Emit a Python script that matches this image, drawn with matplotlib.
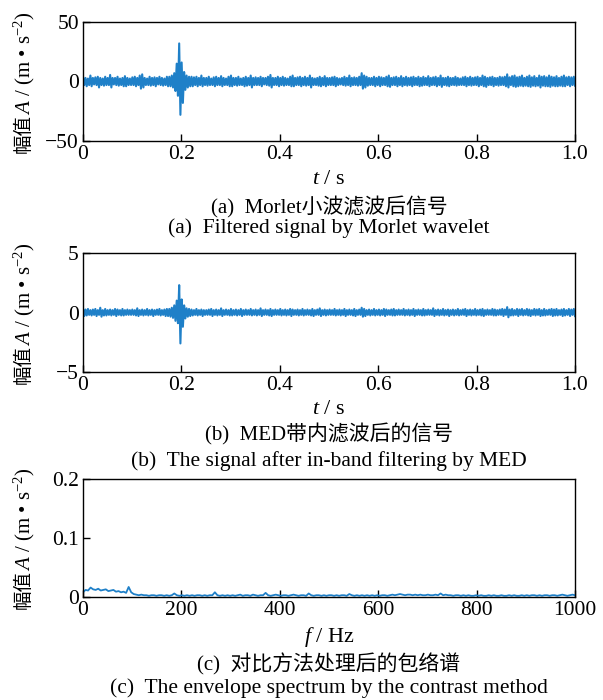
import numpy as np
import matplotlib
matplotlib.use("Agg")
import matplotlib.pyplot as plt

plt.rcParams['font.family'] = ['Liberation Serif', 'Noto Sans CJK SC']
plt.rcParams['mathtext.fontset'] = 'custom'
plt.rcParams['mathtext.rm'] = 'Liberation Serif'
plt.rcParams['mathtext.it'] = 'Liberation Serif:italic'

# (a) Morlet filtered signal, samples over 0..1 s
sig_a = [4, -3, 3, -4, 2.5, -3, 5, -4, 3, -2.5, 3.5, -3, 4, -5, 3, -3, 2.5, -3.5, 4, -3,
         3, -3, 5.5, -5, 3, -2.5, 3, -3, 4, -3.5, 2.5, -3, 3, -4, 4.5, -4, 3, -3, 2.5, -3,
         3.5, -3, 4, -4, 3, -3, 5, -6, 6, -5, 3, -3, 2.5, -3, 4, -3.5, 3, -3, 3.5, -4,
         3, -2.5, 4, -3, 3, -3.5, 2.5, -3, 4, -4, 4, -4, 5, -5, 7, -8, 15, -12, 32, -28,
         16, -18, 8, -7, 5, -5, 4, -4, 4, -4, 3.5, -3, 4, -4, 3, -3, 5, -4, 3, -3,
         3, -3.5, 4, -3, 2.5, -3, 3.5, -4, 4, -3, 3, -3, 4.5, -4, 3, -3, 2.5, -3, 4, -4,
         5, -4, 3, -3, 3, -3.5, 4, -3, 2.5, -3, 3, -4, 4, -3.5, 3, -3, 5, -5, 3, -3,
         3.5, -3, 3, -3, 4, -4, 3, -2.5, 3, -3, 4, -3.5, 5.5, -5, 3, -3, 3, -3, 4, -4,
         3, -3, 4, -3.5, 3, -3, 2.5, -3, 4, -4, 5, -4, 3, -3, 3.5, -3, 4, -4, 3, -3,
         4, -3.5, 3, -3, 5, -5, 3, -3, 2.5, -3, 3, -3.5, 4, -4, 3, -3, 4.5, -4, 3, -3,
         3, -3, 3.5, -3, 4, -4, 3, -3, 2.5, -2.5, 3, -3, 4, -3.5, 3, -3, 5, -4, 3, -3,
         3.5, -3, 3, -3.5, 4, -3, 7, -6, 5, -5, 4, -3.5, 3, -3, 3, -3, 4, -4, 3, -3,
         4, -4, 3.5, -3, 3, -3, 4, -4, 5, -4.5, 3, -3, 3.5, -3, 4, -4, 3, -3, 4.5, -4,
         3, -3, 4, -3.5, 3, -3, 3.5, -4, 4, -3, 3, -3, 4, -4, 3, -3.5, 4, -3, 3, -3,
         4.5, -4, 3, -3, 3.5, -3, 4, -4, 3, -3, 5, -4.5, 3, -3, 3, -3.5, 4, -4, 3, -3,
         3, -3, 4, -3.5, 3, -3, 2.5, -3, 3.5, -3, 4, -4, 3, -3, 4, -3.5, 3, -3, 3.5, -3,
         4, -4, 3, -3, 5, -4, 4, -4.5, 3, -3, 3.5, -3, 4, -4, 3, -3, 3, -3.5, 4, -3,
         3.5, -3, 4, -4, 6, -5, 3.5, -3, 4.5, -4, 5, -4.5, 3.5, -4, 4, -3.5, 5, -4, 3, -3.5,
         4, -4, 5, -4.5, 3.5, -3.5, 4.5, -4, 3, -3.5, 5, -5, 4, -3.5, 4.5, -4, 3.5, -4, 5, -4.5,
         4, -3.5, 3.5, -4, 4.5, -4, 3, -3.5, 4, -4, 5, -4, 3.5, -3, 4, -4, 3.5, -3, 4, -3.5]

# (b) MED in-band filtered signal
sig_b = [0.35, -0.3, 0.25, -0.25, 0.3, -0.2, 0.2, -0.25, 0.25, -0.2, 0.3, -0.3, 0.2, -0.2, 0.4, -0.35, 0.2, -0.25, 0.3, -0.25,
         0.2, -0.2, 0.25, -0.25, 0.2, -0.2, 0.3, -0.3, 0.25, -0.2, 0.2, -0.25, 0.3, -0.25, 0.2, -0.2, 0.25, -0.2, 0.2, -0.2,
         0.25, -0.2, 0.2, -0.25, 0.35, -0.3, 0.2, -0.2, 0.25, -0.25, 0.2, -0.2, 0.3, -0.25, 0.2, -0.2, 0.25, -0.3, 0.2, -0.2,
         0.25, -0.2, 0.3, -0.25, 0.2, -0.2, 0.25, -0.3, 0.3, -0.3, 0.3, -0.35, 0.4, -0.45, 0.6, -0.7, 1.0, -0.9, 2.3, -2.6,
         1.1, -1.2, 0.6, -0.5, 0.35, -0.35, 0.3, -0.3, 0.25, -0.25, 0.2, -0.2, 0.3, -0.25, 0.2, -0.2, 0.25, -0.3, 0.2, -0.2,
         0.2, -0.2, 0.25, -0.2, 0.3, -0.3, 0.2, -0.2, 0.25, -0.25, 0.2, -0.2, 0.35, -0.3, 0.2, -0.2, 0.25, -0.2, 0.2, -0.25,
         0.3, -0.25, 0.2, -0.2, 0.25, -0.25, 0.2, -0.2, 0.3, -0.3, 0.2, -0.2, 0.25, -0.2, 0.2, -0.2, 0.3, -0.25, 0.2, -0.2,
         0.25, -0.25, 0.2, -0.2, 0.35, -0.3, 0.2, -0.2, 0.25, -0.2, 0.2, -0.25, 0.3, -0.3, 0.2, -0.2, 0.25, -0.2, 0.2, -0.2,
         0.3, -0.25, 0.2, -0.2, 0.25, -0.25, 0.2, -0.2, 0.3, -0.3, 0.25, -0.2, 0.2, -0.2, 0.25, -0.25, 0.2, -0.2, 0.3, -0.25,
         0.2, -0.2, 0.25, -0.2, 0.2, -0.25, 0.3, -0.3, 0.2, -0.2, 0.25, -0.2, 0.35, -0.3, 0.2, -0.2, 0.25, -0.25, 0.2, -0.2,
         0.25, -0.2, 0.2, -0.2, 0.3, -0.25, 0.2, -0.2, 0.25, -0.25, 0.2, -0.2, 0.3, -0.3, 0.2, -0.2, 0.25, -0.2, 0.2, -0.25,
         0.3, -0.3, 0.2, -0.2, 0.25, -0.2, 0.4, -0.35, 0.3, -0.3, 0.2, -0.2, 0.25, -0.25, 0.2, -0.2, 0.3, -0.25, 0.2, -0.2,
         0.25, -0.25, 0.2, -0.2, 0.3, -0.3, 0.25, -0.2, 0.2, -0.2, 0.25, -0.25, 0.3, -0.25, 0.2, -0.2, 0.25, -0.2, 0.2, -0.2,
         0.3, -0.25, 0.2, -0.2, 0.25, -0.25, 0.2, -0.2, 0.3, -0.3, 0.2, -0.2, 0.25, -0.2, 0.2, -0.25, 0.3, -0.25, 0.2, -0.2,
         0.25, -0.2, 0.2, -0.2, 0.35, -0.3, 0.2, -0.2, 0.25, -0.25, 0.2, -0.2, 0.3, -0.25, 0.2, -0.2, 0.25, -0.3, 0.2, -0.2,
         0.25, -0.25, 0.2, -0.2, 0.3, -0.25, 0.2, -0.2, 0.25, -0.2, 0.3, -0.3, 0.2, -0.2, 0.25, -0.25, 0.2, -0.2, 0.3, -0.25,
         0.2, -0.2, 0.25, -0.25, 0.3, -0.3, 0.2, -0.2, 0.25, -0.2, 0.2, -0.2, 0.3, -0.25, 0.25, -0.25, 0.2, -0.2, 0.25, -0.2,
         0.3, -0.3, 0.25, -0.2, 0.45, -0.4, 0.25, -0.25, 0.3, -0.25, 0.2, -0.2, 0.3, -0.3, 0.25, -0.2, 0.3, -0.25, 0.2, -0.2,
         0.3, -0.25, 0.25, -0.3, 0.2, -0.2, 0.3, -0.25, 0.25, -0.2, 0.3, -0.3, 0.2, -0.25, 0.3, -0.25, 0.2, -0.2, 0.25, -0.2,
         0.3, -0.3, 0.25, -0.25, 0.3, -0.25, 0.2, -0.2, 0.25, -0.3, 0.3, -0.25, 0.2, -0.2, 0.3, -0.3, 0.25, -0.2, 0.3, -0.3]

# (c) envelope spectrum, 0..1000 Hz
spec_c = [0.008, 0.012, 0.011, 0.016, 0.013, 0.012, 0.014, 0.011, 0.012, 0.013, 0.010, 0.011, 0.012, 0.009, 0.010,
          0.008, 0.009, 0.007, 0.017, 0.008, 0.005,
          0.004, 0.003, 0.004, 0.003, 0.003, 0.002, 0.003, 0.003, 0.002, 0.003, 0.003, 0.002, 0.003, 0.002, 0.003, 0.006, 0.003, 0.002, 0.003, 0.002,
          0.003, 0.002, 0.003, 0.002, 0.003, 0.003, 0.002, 0.003, 0.002, 0.003, 0.003, 0.008, 0.003, 0.002, 0.003, 0.002, 0.003, 0.002, 0.003, 0.002,
          0.003, 0.004, 0.002, 0.003, 0.003, 0.002, 0.004, 0.003, 0.002, 0.003, 0.003, 0.007, 0.003, 0.002, 0.003, 0.004, 0.003, 0.002, 0.003, 0.003,
          0.002, 0.003, 0.004, 0.003, 0.002, 0.003, 0.003, 0.002, 0.006, 0.003, 0.002, 0.003, 0.003, 0.002, 0.003, 0.002, 0.003, 0.003, 0.002, 0.003,
          0.002, 0.003, 0.003, 0.002, 0.005, 0.003, 0.002, 0.003, 0.002, 0.003, 0.002, 0.003, 0.002, 0.003, 0.002, 0.003, 0.002, 0.003, 0.003, 0.002,
          0.003, 0.004, 0.003, 0.004, 0.005, 0.004, 0.003, 0.004, 0.004, 0.003, 0.004, 0.003, 0.004, 0.003, 0.003, 0.004, 0.003, 0.003, 0.004, 0.003,
          0.006, 0.003, 0.004, 0.003, 0.003, 0.002, 0.003, 0.003, 0.002, 0.003, 0.002, 0.003, 0.002, 0.002, 0.003, 0.002, 0.003, 0.002, 0.002, 0.003,
          0.002, 0.003, 0.002, 0.002, 0.003, 0.002, 0.002, 0.003, 0.002, 0.003, 0.002, 0.002, 0.003, 0.002, 0.003, 0.002, 0.003, 0.003, 0.002, 0.003,
          0.002, 0.003, 0.003, 0.002, 0.003, 0.003, 0.002, 0.003, 0.004, 0.003, 0.002, 0.003, 0.004, 0.003]

t_a = np.linspace(0, 1, len(sig_a))
t_b = np.linspace(0, 1, len(sig_b))
f_c = np.linspace(0, 1000, len(spec_c))

blue = '#1f80c8'
W, H = 603, 700
fig = plt.figure(figsize=(W / 100, H / 100), dpi=100)


def make_ax(top, bottom):
    return fig.add_axes([83 / W, 1 - bottom / H, 492 / W, (bottom - top) / H])


def style(ax, xlabel, cap_cn, cap_en, ycap):
    for s in ax.spines.values():
        s.set_linewidth(1.0)
    ax.tick_params(direction='in', length=5, width=1, labelsize=15.5, top=False, right=False)
    ax.tick_params(axis='x', pad=3)
    ax.tick_params(axis='y', pad=3)
    t1 = ax.text(-0.12, -0.1, '幅值', transform=ax.transAxes, rotation=90,
                 ha='center', va='bottom', fontsize=14)
    ax.annotate('$A$ / (m • s$^{-2}$)', xy=(0.5, 0.97), xycoords=t1, rotation=90,
                ha='center', va='bottom', fontsize=15)
    fig.text(329 / W, 1 - ycap[0] / H, xlabel, ha='center', va='center', fontsize=16)
    fig.text(329 / W, 1 - ycap[1] / H, cap_cn, ha='center', va='center', fontsize=15)
    fig.text(329 / W, 1 - ycap[2] / H, cap_en, ha='center', va='center', fontsize=15.5)


ax1 = make_ax(22, 141)
ax1.plot(t_a, sig_a, color=blue, lw=1.5)
ax1.set_xlim(0, 1)
ax1.set_ylim(-50, 50)
ax1.set_xticks([0, 0.2, 0.4, 0.6, 0.8, 1.0])
ax1.set_xticklabels(['0', '0.2', '0.4', '0.6', '0.8', '1.0'])
ax1.set_yticks([-50, 0, 50])
style(ax1, '$t$ / s', '(a)  Morlet小波滤波后信号', '(a)  Filtered signal by Morlet wavelet', (180, 207, 228))

ax2 = make_ax(253, 372)
ax2.plot(t_b, sig_b, color=blue, lw=1.5)
ax2.set_xlim(0, 1)
ax2.set_ylim(-5, 5)
ax2.set_xticks([0, 0.2, 0.4, 0.6, 0.8, 1.0])
ax2.set_xticklabels(['0', '0.2', '0.4', '0.6', '0.8', '1.0'])
ax2.set_yticks([-5, 0, 5])
style(ax2, '$t$ / s', '(b)  MED带内滤波后的信号', '(b)  The signal after in-band filtering by MED', (409, 434, 461))

ax3 = make_ax(479, 597)
ax3.plot(f_c, spec_c, color=blue, lw=1.3)
ax3.set_xlim(0, 1000)
ax3.set_ylim(0, 0.2)
ax3.set_xticks([0, 200, 400, 600, 800, 1000])
ax3.set_yticks([0, 0.1, 0.2])
ax3.set_yticklabels(['0', '0.1', '0.2'])
style(ax3, '$f$ / Hz', '(c)  对比方法处理后的包络谱', '(c)  The envelope spectrum by the contrast method', (637, 664, 688))

fig.savefig('out.png', dpi=100)
